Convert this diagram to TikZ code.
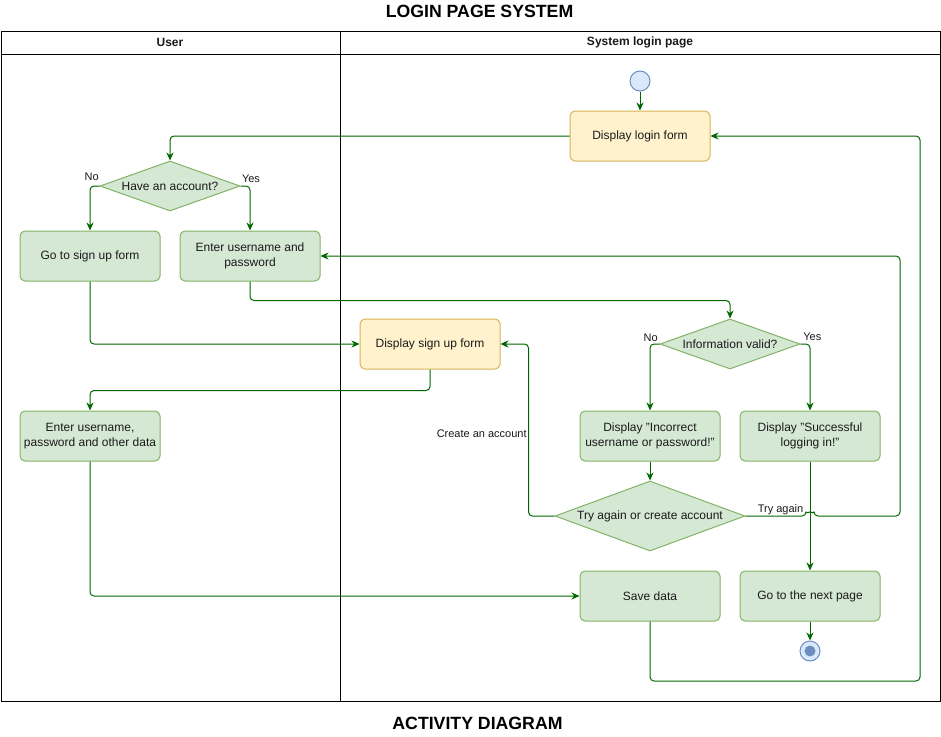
\documentclass[tikz,border=0pt]{standalone}
\usepackage{fontspec}
\setmainfont{Liberation Sans}
\usepackage{tikz}
\usetikzlibrary{arrows.meta,shapes.geometric}
\definecolor{flow}{HTML}{006600}
\definecolor{actfill}{HTML}{D5E8D4}
\definecolor{actline}{HTML}{82B366}
\definecolor{formfill}{HTML}{FFF2CC}
\definecolor{formline}{HTML}{D6B656}
\definecolor{dotfill}{HTML}{DAE8FC}
\definecolor{dotline}{HTML}{6C8EBF}
\definecolor{ink}{HTML}{1A1A1A}
\tikzset{
  act/.style={draw=actline, fill=actfill, rounded corners=5pt, line width=1pt, minimum width=140pt, minimum height=50pt, inner sep=2pt, align=center, text=ink, font=\fontsize{12}{14.5}\selectfont},
  form/.style={act, draw=formline, fill=formfill},
  choice/.style={diamond, draw=actline, fill=actfill, line width=1pt, inner sep=0pt, aspect=2.8, minimum width=140pt, minimum height=50pt, text=ink, font=\fontsize{12}{14.5}\selectfont},
  dot/.style={circle, draw=dotline, fill=dotfill, line width=1pt, minimum size=20pt, inner sep=0pt},
  flowline/.style={draw=flow, line width=1pt, rounded corners=4pt, -{Stealth[length=8pt,width=7pt]}},
  lab/.style={text=ink, font=\fontsize{11}{13}\selectfont, inner sep=0pt},
  head/.style={text=ink, font=\fontsize{12}{14}\selectfont\bfseries},
  title/.style={text=black, font=\fontsize{17.7}{20}\selectfont\bfseries},
  lane/.style={draw=black, line width=1pt}
}

\begin{document}
\begin{tikzpicture}[x=1pt, y=-1pt]
  \fill[white] (0,0) rectangle (941,736);
  \useasboundingbox (0,0) rectangle (941,736);

  % swimlanes
  \draw[lane] (1,31) rectangle (940,701);
  \draw[lane] (1,54) -- (940,54);
  \draw[lane] (340,31) -- (340,701);
  \node[head] (userlane) at (170,42.5) {User};
  \node[head] (syslane) at (640,42.5) {System login page};
  \node[title] (toptitle) at (479.5,11) {LOGIN PAGE SYSTEM};
  \node[title] (bottitle) at (477.5,723) {ACTIVITY DIAGRAM};

  \node[dot] (start) at (640,81) {};
  \node[form] (login) at (640,136) {Display login form};
  \node[choice] (acct) at (170,186) {Have an account?};
  \node[act] (gosign) at (90,256) {Go to sign up form};
  \node[act] (enter) at (250,256) {Enter username and\\password};
  \node[form] (signform) at (430,344) {Display sign up form};
  \node[choice] (valid) at (730,344) {Information valid?};
  \node[act] (enterdata) at (90,436) {Enter username,\\password and other data};
  \node[act] (wrong) at (650,436) {Display "Incorrect\\username or password!"};
  \node[act] (success) at (810,436) {Display "Successful\\logging in!"};
  \node[choice, aspect=2.71, minimum width=190pt, minimum height=70pt] (retry) at (650,516) {Try again or create account};
  \node[act] (save) at (650,596) {Save data};
  \node[act] (nextpage) at (810,596) {Go to the next page};
  \node[dot] (stop) at (810,651) {};
  \node[circle, fill=dotline, minimum size=11pt, inner sep=0pt] (stopdot) at (stop) {};

  \coordinate (laneA) at (900,256);
  \coordinate (laneB) at (920,681);
  \coordinate (jump) at (success.south |- retry.east);

  \draw[flowline] (start) -- (login);
  \draw[flowline] (login.west) -| (acct.north);
  \draw[flowline] (acct.west) -| (gosign.north);
  \draw[flowline] (acct.east) -| (enter.north);
  \draw[flowline] (enter.south) -- ++(0,19) -| (valid.north);
  \draw[flowline] (gosign.south) |- (signform.west);
  \draw[flowline] (signform.south) -- ++(0,21) -| (enterdata.north);
  \draw[flowline] (valid.west) -| (wrong.north);
  \draw[flowline] (valid.east) -| (success.north);
  \draw[flowline] (wrong) -- (retry);
  \draw[flowline] (retry.west) -- ++(-26,0) |- (signform.east);
  \draw[flowline] (retry.east) -- ([xshift=-4pt]jump) arc[start angle=180, end angle=360, radius=4]
    -- (laneA |- retry.east) |- (enter.east);
  \draw[flowline] (success) -- (nextpage);
  \draw[flowline] (enterdata.south) |- (save.west);
  \draw[flowline] (save.south) |- (laneB) |- (login.east);
  \draw[flowline] (nextpage) -- (stop);

  \node[lab] (no1) at (91.7,176.7) {No};
  \node[lab] (yes1) at (251,179) {Yes};
  \node[lab] (no2) at (650.7,337.3) {No};
  \node[lab] (yes2) at (812.3,337) {Yes};
  \node[lab] (create) at (481.7,434) {Create an account};
  \node[lab] (again) at (780.5,509.3) {Try again};
\end{tikzpicture}
\end{document}
